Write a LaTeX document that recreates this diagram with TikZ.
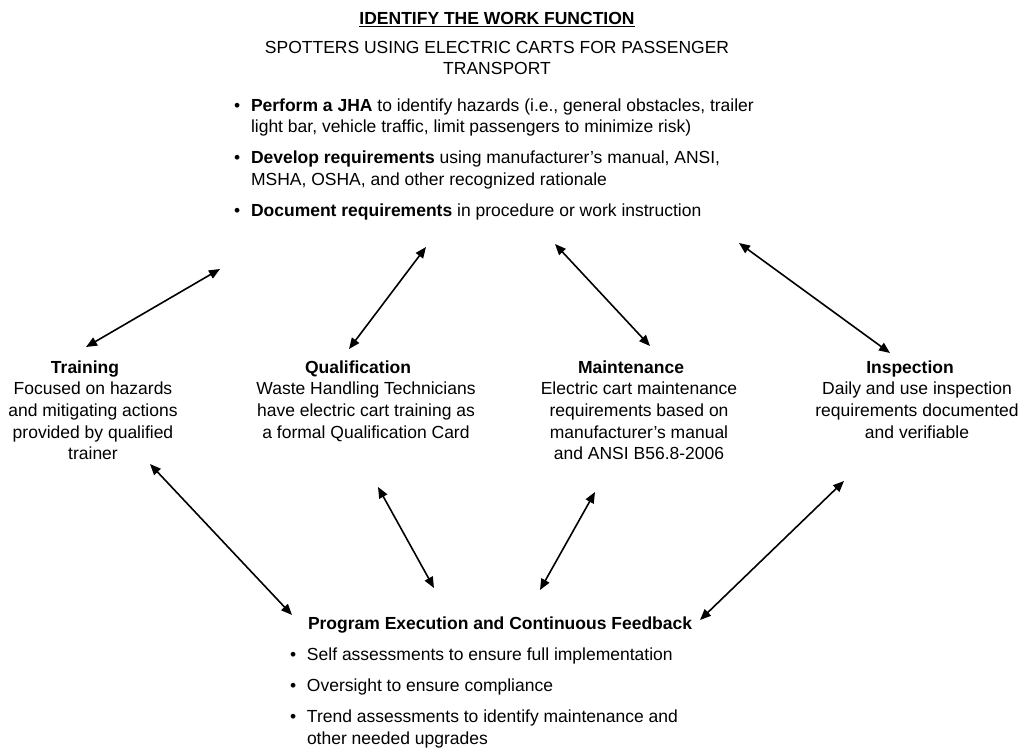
\documentclass[tikz,border=0pt]{standalone}
\usepackage{fontspec}
\setmainfont{Liberation Sans}
\usetikzlibrary{arrows.meta}
\begin{document}
\begin{tikzpicture}[x=1pt,y=-1pt,
  every node/.style={inner sep=0pt,outer sep=0pt,font=\fontsize{17.5}{21.7}\selectfont},
  link/.style={{Triangle[length=11pt,width=9pt]}-{Triangle[length=11pt,width=9pt]},line width=1.6pt},
  block/.style={anchor=base}]
\useasboundingbox (0,0) rectangle (1025,750);
\newcommand{\bul}{\makebox[17pt][l]{•}}
% top block
\node[block] (title) at (497,24) {\textbf{IDENTIFY THE WORK FUNCTION}};
\draw[line width=1.2pt] ([yshift=-2.6pt]title.base west) -- ([yshift=-2.6pt]title.base east);
\node[block] (sub) at (497,53) {\begin{tabular}[t]{@{}c@{}}SPOTTERS USING ELECTRIC CARTS FOR PASSENGER\\TRANSPORT\end{tabular}};
\node[anchor=base west] (work) at (234,111) {\begin{tabular}[t]{@{}l@{}l@{}}
\bul&\textbf{Perform a JHA} to identify hazards (i.e., general obstacles, trailer\\
&light bar, vehicle traffic, limit passengers to minimize risk)\\[9.3pt]
\bul&\textbf{Develop requirements} using manufacturer’s manual, ANSI,\\
&MSHA, OSHA, and other recognized rationale\\[9.3pt]
\bul&\textbf{Document requirements} in procedure or work instruction
\end{tabular}};
% middle blocks
\node[block] (train) at (93,373) {\begin{tabular}[t]{@{}c@{}}\textbf{Training}\hspace*{16pt}\\Focused on hazards\\and mitigating actions\\provided by qualified\\trainer\end{tabular}};
\node[block] (qual) at (366,373) {\begin{tabular}[t]{@{}c@{}}\textbf{Qualification}\hspace*{16pt}\\Waste Handling Technicians\\have electric cart training as\\a formal Qualification Card\end{tabular}};
\node[block] (maint) at (639,373) {\begin{tabular}[t]{@{}c@{}}\textbf{Maintenance}\hspace*{16pt}\\Electric cart maintenance\\requirements based on\\manufacturer’s manual\\and ANSI B56.8-2006\end{tabular}};
\node[block] (insp) at (917,373) {\begin{tabular}[t]{@{}c@{}}\textbf{Inspection}\hspace*{14pt}\\Daily and use inspection\\requirements documented\\and verifiable\end{tabular}};
% bottom block
\node[anchor=base west] (prog) at (308,629) {\textbf{Program Execution and Continuous Feedback}};
\node[anchor=base west] (feed) at (290,660) {\begin{tabular}[t]{@{}l@{}l@{}}
\bul&Self assessments to ensure full implementation\\[9.6pt]
\bul&Oversight to ensure compliance\\[9.6pt]
\bul&Trend assessments to identify maintenance and\\
&other needed upgrades
\end{tabular}};
% connector ends
\coordinate (train-up) at (86,347);   \coordinate (work-train) at (220,269);
\coordinate (qual-up) at (349,349);   \coordinate (work-qual) at (426,247);
\coordinate (work-maint) at (555,244); \coordinate (maint-up) at (650,346);
\coordinate (work-insp) at (739,243); \coordinate (insp-up) at (890,353);
\coordinate (train-down) at (150,464); \coordinate (prog-train) at (292,615);
\coordinate (qual-down) at (378,487); \coordinate (prog-qual) at (434,588);
\coordinate (maint-down) at (595,492); \coordinate (prog-maint) at (540,590);
\coordinate (insp-down) at (844,481); \coordinate (prog-insp) at (700,620);
\draw[link] (train-up) -- (work-train);
\draw[link] (qual-up) -- (work-qual);
\draw[link] (work-maint) -- (maint-up);
\draw[link] (work-insp) -- (insp-up);
\draw[link] (train-down) -- (prog-train);
\draw[link] (qual-down) -- (prog-qual);
\draw[link] (maint-down) -- (prog-maint);
\draw[link] (insp-down) -- (prog-insp);
\end{tikzpicture}
\end{document}
